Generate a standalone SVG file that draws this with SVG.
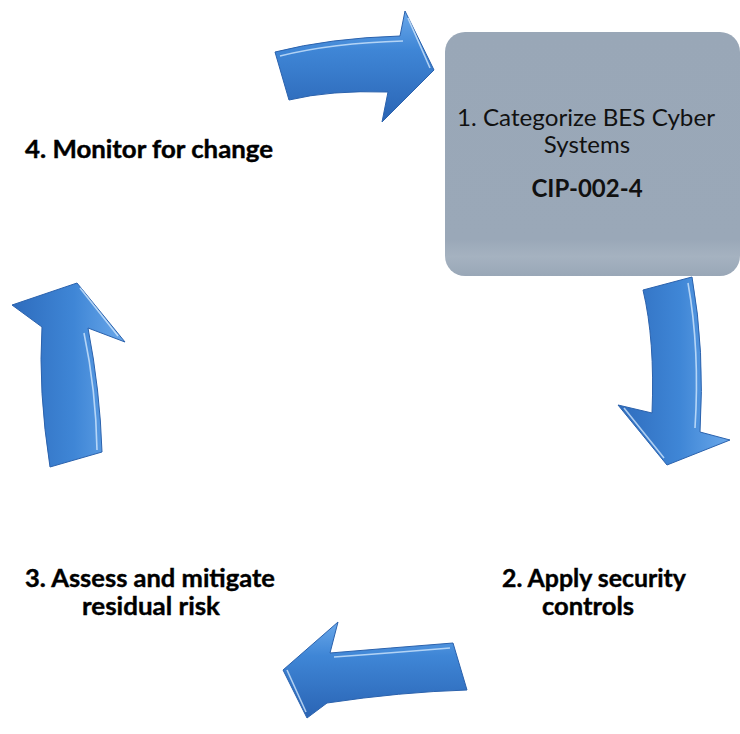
<svg xmlns="http://www.w3.org/2000/svg" width="740" height="734" viewBox="0 0 740 734">
  <defs>
    <linearGradient id="gradH" x1="0" y1="0" x2="0" y2="1">
      <stop offset="0" stop-color="#6aa8ea"/>
      <stop offset="0.35" stop-color="#3f86d6"/>
      <stop offset="1" stop-color="#2a64b4"/>
    </linearGradient>
    <linearGradient id="gradV" x1="0" y1="0" x2="1" y2="0">
      <stop offset="0" stop-color="#2e6cbd"/>
      <stop offset="0.55" stop-color="#3f86d6"/>
      <stop offset="1" stop-color="#6aa8ea"/>
    </linearGradient>
    <linearGradient id="boxFill" x1="0" y1="0" x2="0" y2="1">
      <stop offset="0" stop-color="#99a7b7"/>
      <stop offset="0.85" stop-color="#9aa8b8"/>
      <stop offset="0.92" stop-color="#a5b2c0"/>
      <stop offset="1" stop-color="#99a7b7"/>
    </linearGradient>
    <style>
      .arrow { stroke: #2b62ad; stroke-width: 1; stroke-linejoin: round; }
      .bevel { fill: none; stroke: #d8ecff; stroke-opacity: 0.75; stroke-width: 1.6; stroke-linejoin: round; }
      .label { font-family: Lato, "Liberation Sans", sans-serif; font-weight: bold; font-size: 24px; fill: #000; stroke: #000; stroke-width: 0.4; text-anchor: middle; }
      .boxtext { font-family: Lato, "Liberation Sans", sans-serif; font-size: 24px; fill: #111; text-anchor: middle; }
    </style>
  </defs>

  <!-- step 1 box -->
  <g id="node-categorize">
    <rect x="445" y="32" width="295" height="244" rx="20" ry="20" fill="url(#boxFill)"/>
    <text class="boxtext" x="586" y="126" textLength="258" lengthAdjust="spacingAndGlyphs">1. Categorize BES Cyber</text>
    <text class="boxtext" x="587" y="153">Systems</text>
    <text class="boxtext" x="587" y="197" font-weight="bold">CIP-002-4</text>
  </g>

  <g id="node-apply">
    <text class="label" x="594" y="587" textLength="184" lengthAdjust="spacingAndGlyphs">2. Apply security</text>
    <text class="label" x="588" y="615" textLength="92" lengthAdjust="spacingAndGlyphs">controls</text>
  </g>

  <g id="node-assess">
    <text class="label" x="150" y="587" textLength="250" lengthAdjust="spacingAndGlyphs">3. Assess and mitigate</text>
    <text class="label" x="151" y="615" textLength="138" lengthAdjust="spacingAndGlyphs">residual risk</text>
  </g>

  <g id="node-monitor">
    <text class="label" x="149" y="158" textLength="248" lengthAdjust="spacingAndGlyphs">4. Monitor for change</text>
  </g>

  <!-- curved cycle arrows -->
  <g id="connectors">
    <!-- 4 -> 1 -->
    <path class="arrow" fill="url(#gradH)" d="M275,52 Q330,38 400,36 L405,11 L434,70 L382,122 L388,92 Q330,90 289,100 Z"/>
    <path class="bevel" d="M280,56 Q332,43 403,41 M408,18 L430,68"/>
    <!-- 1 -> 2 -->
    <path class="arrow" fill="url(#gradV)" d="M643,290 L692,277 Q705,350 700,432 L730,440 L667,465 L618,405 L652,413 Q655,340 643,290 Z"/>
    <path class="bevel" d="M688,283 Q700,350 695,428 M624,408 L664,458"/>
    <!-- 2 -> 3 -->
    <path class="arrow" fill="url(#gradH)" d="M453,643 Q390,648 330,653 L338,622 L283,670 L307,718 L327,703 Q400,692 467,690 Z"/>
    <path class="bevel" d="M450,648 Q390,653 334,657 M287,670 L306,712"/>
    <!-- 3 -> 4 -->
    <path class="arrow" fill="url(#gradV)" d="M12,305 L77,283 L125,342 L88,328 Q100,390 102,452 L50,467 Q38,390 42,327 Z"/>
    <path class="bevel" d="M84,333 Q96,390 97,450 M80,288 L118,336"/>
  </g>
</svg>
